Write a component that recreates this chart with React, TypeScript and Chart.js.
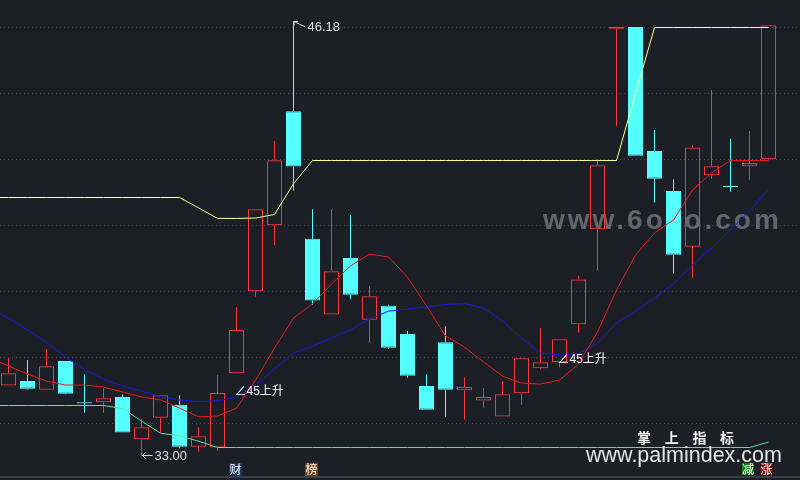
import React, { useEffect, useRef } from "react";
import { Chart, registerables } from "chart.js";
Chart.register(...registerables);

// ---- candle data (41 bars) ----
const opens = [35.14, 35.27, 35.01, 35.88, 34.61, 34.63, 34.79, 33.51, 34.16, 34.55, 33.28, 33.26, 35.51, 37.99, 39.99, 43.45, 39.58, 37.29, 39.0, 37.13, 37.55, 36.7, 35.12, 36.45, 34.99, 34.68, 34.2, 34.9, 35.66, 35.84, 36.99, 39.87, 45.95, 46.0, 42.24, 41.03, 39.34, 41.51, 41.17, 41.78, 41.99];
const highs = [35.97, 35.91, 36.24, 35.88, 35.48, 35.05, 34.87, 34.11, 34.84, 34.84, 33.87, 35.45, 37.51, 40.48, 42.55, 46.18, 40.48, 40.48, 40.3, 38.15, 37.58, 36.79, 35.48, 36.93, 35.39, 35.06, 35.27, 35.96, 36.88, 36.54, 38.46, 41.99, 46.0, 46.0, 42.88, 41.39, 42.42, 44.09, 42.61, 42.85, 46.05];
const lows = [35.14, 35.0, 35.01, 34.87, 34.31, 34.31, 33.71, 33.0, 33.71, 33.23, 33.13, 33.16, 35.51, 37.83, 39.39, 41.04, 37.58, 37.29, 37.75, 36.43, 36.25, 35.37, 34.4, 34.19, 34.1, 34.46, 34.2, 34.55, 35.63, 35.69, 36.74, 38.62, 43.01, 42.1, 40.68, 38.52, 38.4, 41.4, 41.01, 41.37, 41.99];
const closes = [35.51, 35.04, 35.72, 34.89, 34.61, 34.75, 33.71, 33.87, 34.84, 33.28, 33.6, 34.91, 36.82, 40.48, 41.96, 41.77, 37.71, 38.6, 37.89, 37.84, 36.28, 35.43, 34.4, 35.01, 35.09, 34.79, 34.87, 35.96, 35.84, 36.54, 38.35, 41.81, 46.0, 42.1, 41.4, 39.1, 42.35, 41.78, 41.17, 41.88, 46.05];

// ---- indicator lines: first value belongs to the bar before the first visible one ----
const redLine = [35.98, 35.73, 35.48, 35.27, 35.15, 35.15, 35.09, 34.94, 34.79, 34.7, 34.45, 34.19, 34.21, 34.45, 35.3, 36.27, 37.18, 37.61, 38.21, 38.76, 39.12, 39.03, 38.42, 37.55, 36.64, 36.3, 35.85, 35.42, 35.21, 35.18, 35.3, 35.79, 36.76, 38.03, 39.09, 39.76, 40.15, 41.06, 41.58, 41.955, 41.955, 41.955];
const blueLine = [37.48, 37.18, 36.82, 36.45, 36.0, 35.61, 35.33, 35.12, 34.97, 34.79, 34.7, 34.65, 34.67, 34.79, 35.15, 35.64, 36.12, 36.33, 36.58, 36.82, 37.15, 37.39, 37.45, 37.52, 37.59, 37.62, 37.48, 37.09, 36.58, 36.12, 36.06, 36.09, 36.42, 37.03, 37.39, 37.79, 38.21, 38.79, 39.3, 39.85, 40.42, 41.09];
const yellowLine = [40.833, 40.833, 40.833, 40.833, 40.833, 40.833, 40.833, 40.833, 40.833, 40.833, 40.833, 40.52, 40.2, 40.2, 40.21, 40.32, 41.25, 41.955, 41.955, 41.955, 41.955, 41.955, 41.955, 41.955, 41.955, 41.955, 41.955, 41.955, 41.955, 41.955, 41.955, 41.955, 41.955, 41.955, 43.98, 45.985, 45.985, 45.985, 45.985, 45.985, 45.985, 45.985];
const greenLine = [34.53, 34.53, 34.53, 34.53, 34.53, 34.53, 34.53, 34.44, 34.06, 33.69, 33.61, 33.45, 33.258, 33.258, 33.258, 33.258, 33.258, 33.258, 33.258, 33.258, 33.258, 33.258, 33.258, 33.258, 33.258, 33.258, 33.258, 33.258, 33.258, 33.258, 33.258, 33.258, 33.258, 33.258, 33.258, 33.258, 33.258, 33.258, 33.258, 33.258, 33.258, 33.42];

// ---- grid / annotations ----
const gridValues = [34, 36, 38, 40, 42, 44, 46];
const signalIdx = [12, 29];
const signalVal = [34.94, 35.91];
const signalText = "∠45上升";
const markerIdx = [12, 16];
const markerText = ["财", "榜"];
const markerBg = ["#14365f", "#7d4312"];
const brandChars = ["掌", "上", "指", "标"];
const brandUrl = "www.palmindex.com";
const watermark = "www.6o7o.com";
const buttons = ["减", "涨"];
const buttonBg = ["#0a7d0a", "#7d0505"];

const BG = "#1d1f27";
const UP = "#ff3535";
const DOWN = "#54ffff";

export default function App() {
  const ref = useRef<HTMLCanvasElement | null>(null);

  useEffect(() => {
    document.body.style.margin = "0";
    document.body.style.background = BG;
    const idx = opens.map((_, i) => i);
    const flat = idx.map((i) => Math.abs(closes[i] - opens[i]) < 0.02);
    const up = idx.map((i) => closes[i] > opens[i] && !flat[i]);
    const col = idx.map((i) => (up[i] ? UP : DOWN));

    const bodyData = idx.map((i) => {
      if (flat[i]) {
        const m = (opens[i] + closes[i]) / 2;
        return { x: i, y: [m - 0.016, m + 0.016] };
      }
      return { x: i, y: [opens[i], closes[i]] };
    });
    const bodyFill = idx.map((i) => {
      if (!up[i]) return DOWN;
      if ((closes[i] - opens[i]) * 33 < 3) return UP;
      return "rgba(0,0,0,0)";
    });
    const upperWick = idx.map((i) => ({ x: i, y: [Math.max(opens[i], closes[i]), highs[i]] }));
    const lowerWick = idx.map((i) => ({ x: i, y: [lows[i], Math.min(opens[i], closes[i])] }));
    const lineData = (arr: number[]) => arr.map((v, k) => ({ x: k - 1, y: v }));

    const lineDs = (arr: number[], color: string) => ({
      type: "line" as const,
      data: lineData(arr),
      borderColor: color,
      borderWidth: 1,
      pointRadius: 0,
      tension: 0,
      fill: false,
      order: 0,
    });

    const overlay = {
      id: "overlay",
      beforeDraw(chart: any) {
        const c = chart.ctx;
        c.save();
        c.fillStyle = BG;
        c.fillRect(0, 0, chart.width, chart.height);
        c.restore();
      },
      beforeDatasetsDraw(chart: any) {
        const c = chart.ctx;
        c.save();
        c.font = 'bold 28px "Liberation Sans"';
        (c as any).letterSpacing = "3px";
        c.fillStyle = "rgba(112,114,120,0.85)";
        c.textBaseline = "alphabetic";
        c.fillText(watermark, 543, 229);
        c.restore();
      },
      afterDatasetsDraw(chart: any) {
        const c = chart.ctx;
        const xs = chart.scales.x;
        const ys = chart.scales.y;
        c.save();
        // highest high
        const hiMax = Math.max(...highs);
        const hi = highs.indexOf(hiMax);
        let px = xs.getPixelForValue(hi);
        let py = ys.getPixelForValue(hiMax);
        c.strokeStyle = "#d8d8d8";
        c.lineWidth = 1;
        c.beginPath();
        c.moveTo(px + 0.5, py + 0.5);
        c.lineTo(px + 12, py + 6);
        c.moveTo(px + 0.5, py + 0.5);
        c.lineTo(px + 4.5, py + 0.5);
        c.moveTo(px + 0.5, py + 0.5);
        c.lineTo(px + 0.5, py + 4.5);
        c.stroke();
        c.fillStyle = "#dedede";
        c.font = '13px "Liberation Sans"';
        c.textBaseline = "alphabetic";
        c.fillText(hiMax.toFixed(2), px + 14, py + 10);
        // lowest low
        const loMin = Math.min(...lows);
        const lo = lows.indexOf(loMin);
        px = xs.getPixelForValue(lo);
        py = ys.getPixelForValue(loMin);
        c.beginPath();
        c.moveTo(px + 1, py - 0.5);
        c.lineTo(px + 11, py - 0.5);
        c.moveTo(px + 1, py - 0.5);
        c.lineTo(px + 4, py - 3.5);
        c.moveTo(px + 1, py - 0.5);
        c.lineTo(px + 4, py + 2.5);
        c.stroke();
        c.fillText(loMin.toFixed(2), px + 13, py + 3.5);
        // signals
        c.font = '12px "Liberation Sans", "Noto Sans CJK SC"';
        c.textBaseline = "middle";
        c.fillStyle = "#ffffff";
        signalIdx.forEach((si, k) => {
          c.fillText(signalText, xs.getPixelForValue(si) - 2, ys.getPixelForValue(signalVal[k]));
        });
        c.restore();
      },
      afterDraw(chart: any) {
        const c = chart.ctx;
        const xs = chart.scales.x;
        c.save();
        // bottom border
        c.fillStyle = "#3a3d46";
        c.fillRect(0, 476, 800, 2);
        // markers under bars
        c.font = '12px "Noto Sans CJK SC"';
        c.textAlign = "center";
        c.textBaseline = "middle";
        markerIdx.forEach((mi, k) => {
          const x = Math.round(xs.getPixelForValue(mi)) - 1;
          c.fillStyle = markerBg[k];
          c.fillRect(x - 6, 463, 13, 13);
          c.fillStyle = "#ffffff";
          c.fillText(markerText[k], x + 0.5, 469.5);
        });
        buttons.forEach((b, k) => {
          const x = 742 + k * 18.5;
          c.fillStyle = buttonBg[k];
          c.fillRect(x, 463, 12, 12);
          c.fillStyle = "#ffffff";
          c.fillText(b, x + 6, 469);
        });
        // brand
        c.font = 'bold 14px "Noto Sans CJK SC"';
        c.fillStyle = "#f2f2f2";
        brandChars.forEach((ch, k) => {
          c.fillText(ch, 644 + k * 27.7, 438);
        });
        c.textAlign = "left";
        c.textBaseline = "alphabetic";
        c.font = '21.5px "Liberation Sans"';
        c.fillStyle = "#e6e6e6";
        c.fillText(brandUrl, 586, 461.5);
        c.restore();
      },
    };

    const xMin = -8.5 / 19;
    const xMax = xMin + 800 / 19;

    const chart = new Chart(ref.current as HTMLCanvasElement, {
      type: "bar",
      data: {
        datasets: [
          lineDs(redLine, "#f01818"),
          lineDs(blueLine, "#1616e8"),
          lineDs(yellowLine, "#ffff96"),
          lineDs(greenLine, "#58e6a0"),
          {
            type: "bar",
            data: bodyData as any,
            backgroundColor: bodyFill,
            borderColor: col,
            borderWidth: 1,
            borderSkipped: false,
            barThickness: 15,
            grouped: false,
            inflateAmount: 0,
            order: 1,
          } as any,
          {
            type: "bar",
            data: upperWick as any,
            backgroundColor: col,
            borderWidth: 0,
            barThickness: 1,
            grouped: false,
            inflateAmount: 0,
            order: 2,
          } as any,
          {
            type: "bar",
            data: lowerWick as any,
            backgroundColor: col,
            borderWidth: 0,
            barThickness: 1,
            grouped: false,
            inflateAmount: 0,
            order: 2,
          } as any,
        ],
      },
      options: {
        animation: false,
        responsive: false,
        events: [],
        layout: { padding: 0 },
        plugins: { legend: { display: false }, tooltip: { enabled: false } },
        scales: {
          x: { type: "linear", min: xMin, max: xMax, offset: false, display: false },
          y: {
            type: "linear",
            min: 46 - 453 / 33,
            max: 46 + 27 / 33,
            display: true,
            afterBuildTicks: (s: any) => {
              s.ticks = gridValues.map((v) => ({ value: v }));
            },
            ticks: { display: false },
            grid: { color: "#474a54", lineWidth: 1, drawTicks: false },
            border: { display: false, dash: [1, 3] },
          },
        },
      } as any,
      plugins: [overlay],
    });
    return () => chart.destroy();
  }, []);

  return (
    <div style={{ position: "fixed", left: 0, top: 0, width: 800, height: 480, background: BG }}>
      <canvas ref={ref} width={800} height={480} style={{ display: "block" }} />
    </div>
  );
}
